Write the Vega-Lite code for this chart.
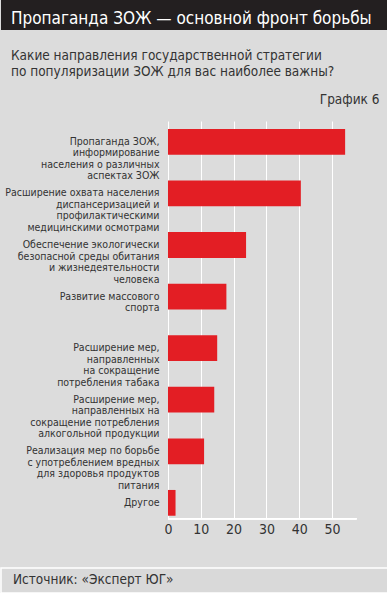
{
  "$schema": "https://vega.github.io/schema/vega-lite/v6.json",
  "background": "#dcdcdc",
  "padding": 0,
  "spacing": 18,
  "config": {
    "font": "DejaVu Sans Condensed, sans-serif",
    "view": {"stroke": null}
  },
  "vconcat": [
    {
      "width": 387,
      "height": 30,
      "view": {"fill": "#231f20", "stroke": null},
      "title": {
        "text": "Пропаганда ЗОЖ — основной фронт борьбы",
        "orient": "top",
        "anchor": "start",
        "frame": "group",
        "offset": -28,
        "dx": 10,
        "color": "#ffffff",
        "fontSize": 17,
        "fontWeight": "normal"
      },
      "data": {"values": []},
      "mark": "rect",
      "encoding": {}
    },
    {
      "width": 387,
      "height": 398,
      "title": {
        "text": ["Какие направления государственной стратегии", "по популяризации ЗОЖ для вас наиболее важны?"],
        "anchor": "start",
        "frame": "group",
        "dx": 10,
        "offset": 14,
        "fontSize": 13.5,
        "lineHeight": 16,
        "fontWeight": "normal",
        "color": "#333333"
      },
      "data": {
        "values": [
          {"category": "Пропаганда ЗОЖ,\nинформирование\nнаселения о различных\nаспектах ЗОЖ", "value": 54},
          {"category": "Расширение охвата населения\nдиспансеризацией и\nпрофилактическими\nмедицинскими осмотрами", "value": 40.5},
          {"category": "Обеспечение экологически\nбезопасной среды обитания\nи жизнедеятельности\nчеловека", "value": 23.8},
          {"category": "Развитие массового\nспорта", "value": 17.8},
          {"category": "Расширение мер,\nнаправленных\nна сокращение\nпотребления табака", "value": 15},
          {"category": "Расширение мер,\nнаправленных на\nсокращение потребления\nалкогольной продукции", "value": 14.1},
          {"category": "Реализация мер по борьбе\nс употреблением вредных\nдля здоровья продуктов\nпитания", "value": 11},
          {"category": "Другое", "value": 2.3}
        ]
      },
      "layer": [
        {
          "mark": {"type": "bar", "color": "#e31e24"},
          "encoding": {
            "y": {
              "field": "category",
              "type": "nominal",
              "sort": null,
              "scale": {"paddingInner": 0.5, "paddingOuter": 0.109, "align": 0.71},
              "axis": {
                "title": "График 6",
                "titleAngle": 0,
                "titleAlign": "right",
                "titleBaseline": "top",
                "titleX": 211,
                "titleY": -29,
                "titleFontSize": 13.5,
                "titleFontWeight": "normal",
                "titleColor": "#333333",
                "offset": -167,
                "labelExpr": "split(datum.value, '\\n')",
                "labelFontSize": 10.5,
                "labelLineHeight": 11.5,
                "labelColor": "#333333",
                "labelPadding": 9,
                "labelLimit": 200,
                "ticks": false,
                "domain": false
              }
            },
            "x": {
              "field": "value",
              "type": "quantitative",
              "scale": {"domain": [-50.91, 67.07], "nice": false, "zero": false},
              "axis": {
                "values": [0, 10, 20, 30, 40, 50],
                "title": null,
                "grid": true,
                "gridColor": "#ffffff",
                "gridWidth": 1,
                "domain": false,
                "ticks": false,
                "labelFontSize": 14,
                "labelColor": "#333333",
                "labelPadding": 3,
                "minExtent": 30
              }
            },
            "x2": {"datum": 0}
          }
        },
        {
          "mark": {"type": "rule", "color": "#ffffff", "strokeWidth": 1},
          "encoding": {
            "x": {"datum": 0, "type": "quantitative"},
            "x2": {"datum": 57.5},
            "y": {"datum": "Другое", "type": "nominal", "bandPosition": 1.12}
          }
        }
      ]
    },
    {
      "width": 387,
      "height": 25,
      "view": {"fill": "#d9d9d9", "stroke": "#ffffff", "strokeWidth": 1.5},
      "title": {
        "text": "Источник: «Эксперт ЮГ»",
        "orient": "top",
        "anchor": "start",
        "frame": "group",
        "offset": -18,
        "dx": 12,
        "color": "#333333",
        "fontSize": 13.5,
        "fontWeight": "normal"
      },
      "data": {"values": []},
      "mark": "rect",
      "encoding": {}
    }
  ]
}
